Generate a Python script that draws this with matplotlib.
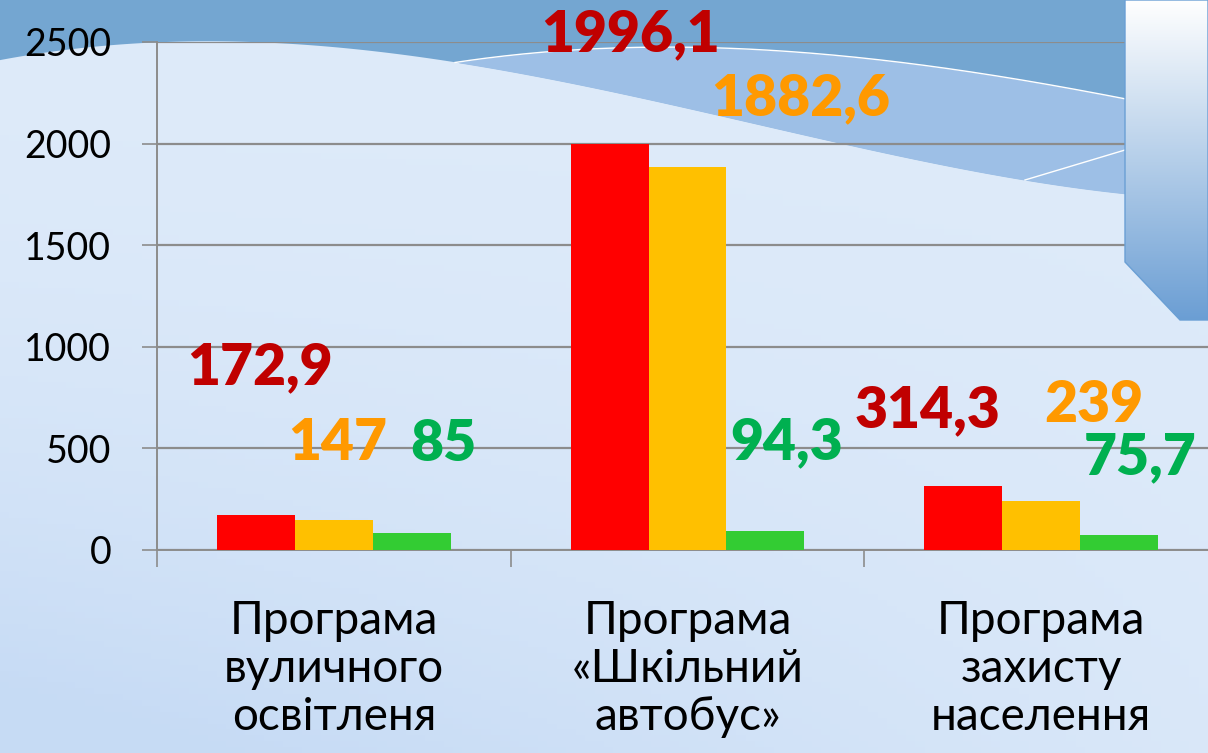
import numpy as np
import matplotlib.pyplot as plt
from matplotlib.patches import Polygon

categories = ["Програма\nвуличного\nосвітленя", "Програма\n«Шкільний\nавтобус»", "Програма\nзахисту\nнаселення"]
red_vals = [172.9, 1996.1, 314.3]
gold_vals = [147, 1882.6, 239]
green_vals = [85, 94.3, 75.7]
red_labels = ["172,9", "1996,1", "314,3"]
gold_labels = ["147", "1882,6", "239"]
green_labels = ["85", "94,3", "75,7"]
yticks = [0, 500, 1000, 1500, 2000, 2500]

W, H = 1208, 753
plt.rcParams['font.family'] = ['Lato', 'DejaVu Sans']
fig = plt.figure(figsize=(W / 100, H / 100), dpi=100)

# background, in pixel coords
bg = fig.add_axes([0, 0, 1, 1], zorder=0)
bg.set_xlim(0, W)
bg.set_ylim(H, 0)
bg.axis("off")
gy = np.linspace(0, 1, 128).reshape(-1, 1, 1)
gx = np.linspace(0, 1, 128).reshape(1, -1, 1)
light = np.array([0.87, 0.92, 0.98])
lower = np.array([0.78, 0.86, 0.96])
# slightly bluer towards bottom left
t = np.clip(gy ** 2 * (1.2 - gx), 0, 1)
img = light + (lower - light) * t
bg.imshow(img, extent=(0, W, H, 0), aspect="auto")

xx = np.linspace(0, W, 300)
wave_pts = ([0, 230, 460, 690, 850, 1025, 1208], [60, 42, 62, 110, 145, 180, 200])
wave = np.polyval(np.polyfit(*wave_pts, 4), xx)
bg.fill_between(xx, 0, wave, color="#74a6d1", lw=0)
band_x = np.linspace(455, W, 200)
band_pts = ([455, 600, 750, 900, 1125, 1208], [62, 50, 48, 62, 100, 115])
band = np.polyval(np.polyfit(*band_pts, 3), band_x)
wave_b = np.polyval(np.polyfit(*wave_pts, 4), band_x)
bg.fill_between(band_x, band, wave_b, where=wave_b > band, color="#9dbfe6", lw=0)
bg.plot(band_x[band_x < 1125], band[band_x < 1125], color="white", lw=1)
bg.plot([1025, 1125], [180, 150], color="white", lw=1)

# chart
ax = fig.add_axes([157 / W, 203 / H, (1218 - 157) / W, 508 / H], zorder=1)
ax.patch.set_alpha(0)
x = np.arange(len(categories))
bw = 0.22
ax.bar(x - bw, red_vals, bw, color="#ff0000", zorder=3)
ax.bar(x, gold_vals, bw, color="#ffc000", zorder=3)
ax.bar(x + bw, green_vals, bw, color="#33cc33", zorder=3)
ax.set_xlim(-0.5, 2.5)
ax.set_ylim(0, 2500)
ax.set_yticks(yticks)
ax.set_yticklabels([str(v) for v in yticks], fontsize=27)
ax.tick_params(axis="y", length=11, width=1.2, color="#8c8c8c", pad=22)
ax.set_xticks(x)
ax.set_xticklabels(categories, fontsize=33, linespacing=1.17)
ax.set_xticks([-0.5, 0.5, 1.5, 2.5], minor=True)
ax.tick_params(axis="x", which="major", length=0, pad=36)
ax.tick_params(axis="x", which="minor", length=12, width=1.2, color="#8c8c8c")
ax.grid(axis="y", color="#8c8c8c", lw=1.6, zorder=1)
for s in ["top", "right"]:
    ax.spines[s].set_visible(False)
for s in ["left", "bottom"]:
    ax.spines[s].set_color("#8c8c8c")
    ax.spines[s].set_linewidth(1.4)

# value labels (layout positions in data coords)
red_pos = [(-0.21, 900), (0.84, 2540), (1.68, 690)]
gold_pos = [(0.01, 525), (1.32, 2225), (2.15, 715)]
green_pos = [(0.31, 520), (1.28, 530), (2.28, 455)]
for labels, pos, col in [(red_labels, red_pos, "#c00000"),
                         (gold_labels, gold_pos, "#ff9900"),
                         (green_labels, green_pos, "#00b050")]:
    for lab, (px, py) in zip(labels, pos):
        ax.text(px, py, lab, color=col, fontsize=41, fontweight="heavy",
                ha="center", va="center", zorder=5, clip_on=False)

# right decorative panel
top = fig.add_axes([0, 0, 1, 1], zorder=2)
top.set_xlim(0, W)
top.set_ylim(H, 0)
top.axis("off")
top.patch.set_alpha(0)
pg = np.linspace(0, 1, 256).reshape(-1, 1, 1)
c0 = np.array([1.0, 1.0, 1.0])
c1 = np.array([0.42, 0.62, 0.83])
pimg = c0 + (c1 - c0) * pg
panel = Polygon([(1125, 0), (W, 0), (W, 320), (1180, 320), (1125, 262)],
                closed=True, facecolor="none", edgecolor="#6a9fd4", lw=1)
top.add_patch(panel)
im = top.imshow(pimg, extent=(1125, W, 320, 0), aspect="auto")
im.set_clip_path(panel)

fig.savefig("out.png", dpi=100)
